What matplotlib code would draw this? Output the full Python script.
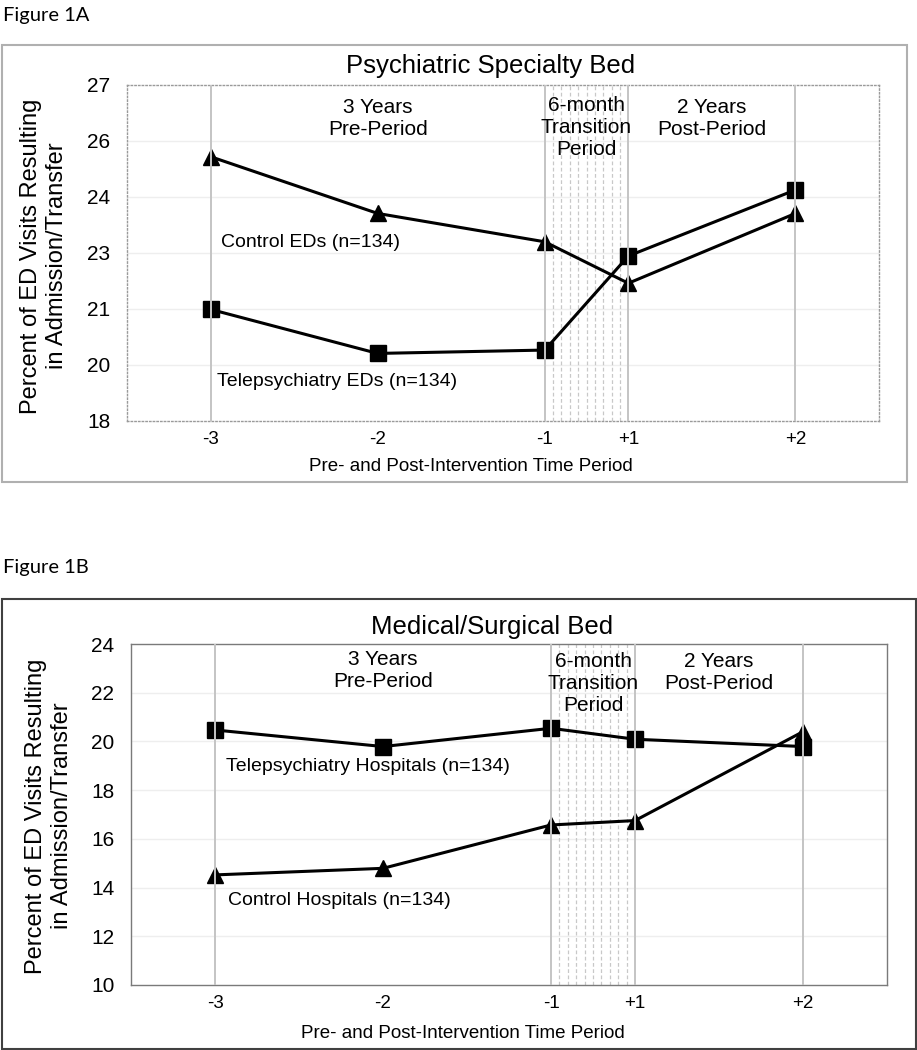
import matplotlib
matplotlib.use('Agg')
import matplotlib.pyplot as plt
from matplotlib.patches import Rectangle

plt.rcParams['font.family'] = ['Liberation Sans', 'DejaVu Sans']

# x positions of the periods (the -1 -> +1 gap is a half step, the 6-month transition)
periods = ['-3', '-2', '-1', '+1', '+2']
xpos = [0, 1, 2, 2.5, 3.5]
grid_x = [0, 2, 2.5, 3.5]
trans_x = [2.05, 2.1, 2.15, 2.2, 2.25, 2.3, 2.35, 2.4, 2.45]

# Figure 1A - psychiatric specialty bed
a_control = [25.08, 23.56, 22.80, 21.69, 23.56]
a_tele = [20.99, 19.81, 19.90, 22.42, 24.19]
a_yticks = [18, 19.5, 21, 22.5, 24, 25.5, 27]
a_ylabels = ['18', '20', '21', '23', '24', '26', '27']

# Figure 1B - medical/surgical bed
b_tele = [20.47, 19.79, 20.54, 20.09, 19.79]
b_control = [14.52, 14.79, 16.57, 16.75, 20.40]
b_yticks = [10, 12, 14, 16, 18, 20, 22, 24]

W, H = 917, 1050
fig = plt.figure(figsize=(W / 100, H / 100), dpi=100)


def fx(px):
    return px / W


def fy(py):
    return 1 - py / H


def panel(box, ax_rect, box_color, spine_style, spine_color):
    x0, y0, x1, y1 = box
    fig.patches.append(Rectangle((fx(x0), fy(y1)), fx(x1 - x0), (y1 - y0) / H,
                                 transform=fig.transFigure, fill=False,
                                 edgecolor=box_color, linewidth=1.5, zorder=0))
    l, t, r, b = ax_rect
    ax = fig.add_axes([fx(l), fy(b), fx(r - l), (b - t) / H])
    for s in ax.spines.values():
        s.set_linestyle(spine_style)
        s.set_color(spine_color)
        s.set_linewidth(1.0)
    ax.set_xlim(-0.5, 4.0)
    ax.set_xticks(xpos)
    ax.set_xticklabels(periods, fontsize=13.5)
    ax.tick_params(length=0, pad=7)
    ax.tick_params(axis='y', labelsize=15, pad=12)
    for x in grid_x:
        ax.axvline(x, color='#c4c4c4', lw=1.4, zorder=5)
    for x in trans_x:
        ax.axvline(x, color='#c8c8c8', lw=0.9, ls=(0, (3, 2)), zorder=1)
    return ax


def period_labels(ax, y_pre, y_tr, y_post):
    kw = dict(ha='center', va='center', fontsize=15, linespacing=1.2, zorder=6)
    ax.text(1.0, y_pre, "3 Years\nPre-Period", **kw)
    ax.text(2.25, y_tr, "6-month\nTransition\nPeriod", **kw)
    ax.text(3.0, y_post, "2 Years\nPost-Period", **kw)


# ---- Figure 1A ----
fig.text(fx(3), fy(15), "Figure 1A", fontsize=14.5, family=['Lato', 'DejaVu Sans'],
         ha='left', va='center')
ax = panel((2, 45, 907, 482), (127, 85, 879, 421), '#b0b0b0', ':', '#9a9a9a')
ax.set_ylim(18, 27)
ax.set_yticks(a_yticks)
ax.set_yticklabels(a_ylabels)
for y in a_yticks[1:-1]:
    ax.axhline(y, color='#eeeeee', lw=1, zorder=0)
ax.plot(xpos, a_control, color='black', lw=2.2, marker='^', ms=12, zorder=3)
ax.plot(xpos, a_tele, color='black', lw=2.2, marker='s', ms=12, zorder=3)
period_labels(ax, 26.1, 25.85, 26.09)
ax.text(0.06, 22.77, "Control EDs (n=134)", fontsize=14, va='center', zorder=6)
ax.text(0.04, 19.07, "Telepsychiatry EDs (n=134)", fontsize=14, va='center', zorder=6)
fig.text(fx(491), fy(66), "Psychiatric Specialty Bed", fontsize=18.5, ha='center', va='center')
fig.text(fx(471), fy(466), "Pre- and Post-Intervention Time Period", fontsize=13.5,
         ha='center', va='center')
fig.text(fx(44), fy(256), "Percent of ED Visits Resulting\nin Admission/Transfer",
         fontsize=17, rotation=90, ha='center', va='center')

# ---- Figure 1B ----
fig.text(fx(3), fy(567), "Figure 1B", fontsize=14.5, family=['Lato', 'DejaVu Sans'],
         ha='left', va='center')
ax = panel((2, 599, 916, 1049), (131, 644, 887, 985), '#404040', '-', '#7a7a7a')
ax.set_ylim(10, 24)
ax.set_yticks(b_yticks)
for y in b_yticks[1:-1]:
    ax.axhline(y, color='#eeeeee', lw=1, zorder=0)
ax.plot(xpos, b_tele, color='black', lw=2.2, marker='s', ms=12, zorder=3)
ax.plot(xpos, b_control, color='black', lw=2.2, marker='^', ms=12, zorder=3)
period_labels(ax, 22.9, 22.36, 22.85)
ax.text(0.066, 18.99, "Telepsychiatry Hospitals (n=134)", fontsize=14, va='center', zorder=6)
ax.text(0.078, 13.45, "Control Hospitals (n=134)", fontsize=14, va='center', zorder=6)
fig.text(fx(492), fy(627), "Medical/Surgical Bed", fontsize=18.5, ha='center', va='center')
fig.text(fx(463), fy(1033), "Pre- and Post-Intervention Time Period", fontsize=13.5,
         ha='center', va='center')
fig.text(fx(49), fy(816), "Percent of ED Visits Resulting\nin Admission/Transfer",
         fontsize=17, rotation=90, ha='center', va='center')

fig.savefig("out.png", dpi=100)
